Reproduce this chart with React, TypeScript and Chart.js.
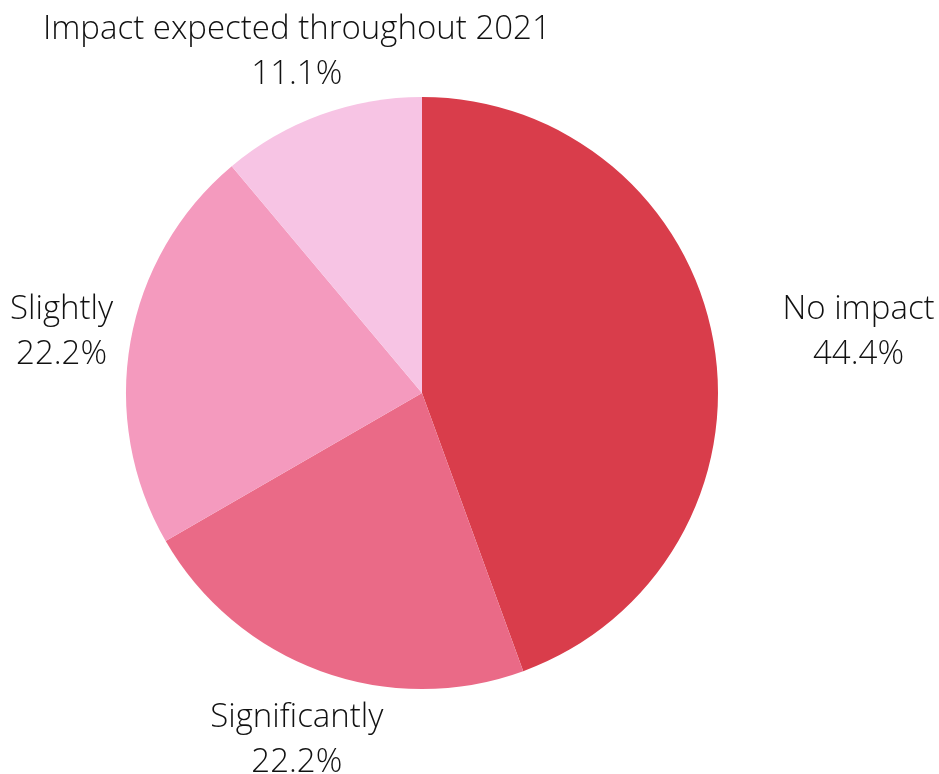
import React, { useEffect, useRef } from "react";
import { Chart, registerables } from "chart.js";

Chart.register(...registerables);

const categories = ["No impact", "Significantly", "Slightly", "Impact expected throughout 2021"];
const values = [44.4, 22.2, 22.2, 11.1];
const colors = ["#D93D4B", "#EA6A87", "#F49ABE", "#F7C4E4"];

const FONT = '300 33px "Open Sans"';

const outsideLabels = {
  id: "outsideLabels",
  afterDraw(chart: any) {
    const ctx = chart.ctx;
    const meta = chart.getDatasetMeta(0);
    ctx.save();
    ctx.font = FONT;
    ctx.fillStyle = "#111111";
    ctx.textBaseline = "middle";
    ctx.textAlign = "center";
    meta.data.forEach((arc: any, i: number) => {
      const mid = (arc.startAngle + arc.endAngle) / 2;
      const dist = arc.outerRadius + 70;
      const ax = arc.x + Math.cos(mid) * dist;
      const ay = arc.y + Math.sin(mid) * dist + 3;
      const lines = [categories[i], values[i].toFixed(1) + "%"];
      const w = Math.max(...lines.map((l) => ctx.measureText(l).width));
      let cx = ax;
      if (Math.cos(mid) > 0.5) cx = ax + w / 2;
      const lh = 45;
      lines.forEach((l, k) => {
        ctx.fillText(l, cx, ay + (k - (lines.length - 1) / 2) * lh);
      });
    });
    ctx.restore();
  },
};

export default function App() {
  const ref = useRef<HTMLCanvasElement>(null);
  useEffect(() => {
    document.body.style.margin = "0";
    const chart = new Chart(ref.current!, {
      type: "pie",
      data: {
        labels: categories,
        datasets: [
          {
            data: values,
            backgroundColor: colors,
            borderWidth: 0,
          },
        ],
      },
      options: {
        animation: false,
        responsive: false,
        layout: { padding: { left: 126, right: 221, top: 97, bottom: 85 } },
        plugins: {
          legend: { display: false },
          tooltip: { enabled: false },
        },
      },
      plugins: [outsideLabels],
    });
    return () => chart.destroy();
  }, []);
  return (
    <div style={{ width: 939, height: 774, background: "#fff" }}>
      <canvas ref={ref} width={939} height={774} />
    </div>
  );
}
